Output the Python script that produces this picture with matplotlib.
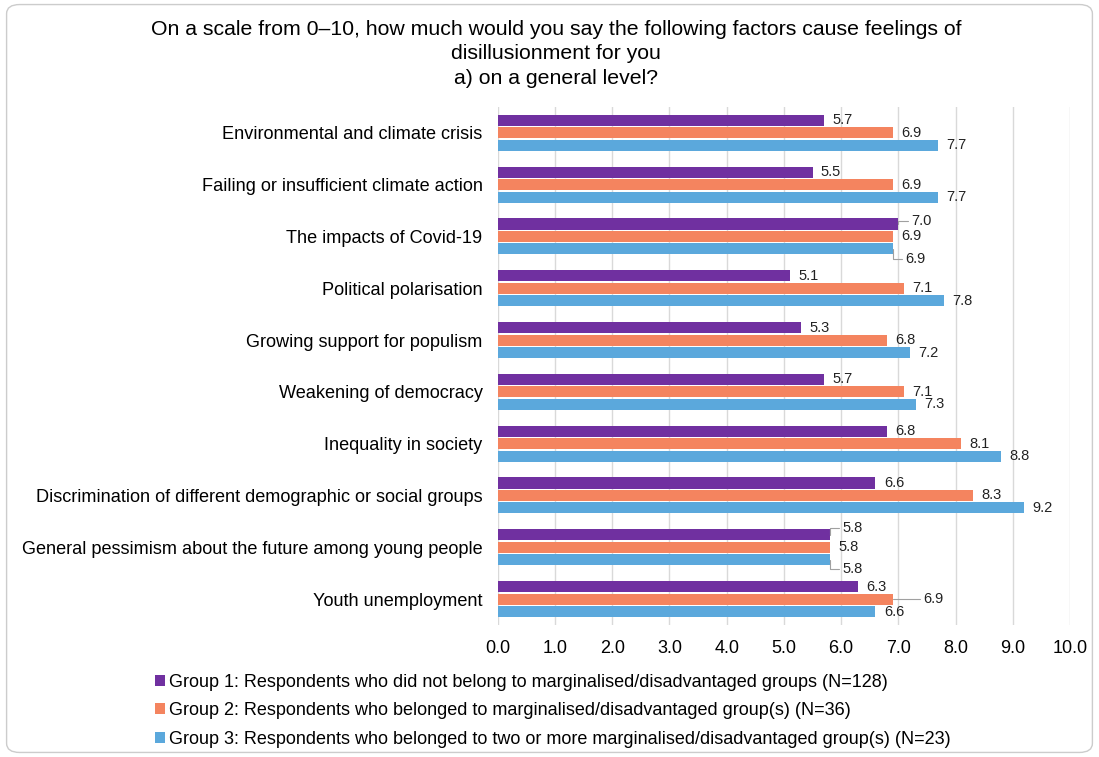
import matplotlib
matplotlib.use("Agg")
import matplotlib.pyplot as plt
from matplotlib.patches import FancyBboxPatch, Patch
import numpy as np

plt.rcParams['font.family'] = ['Liberation Sans', 'DejaVu Sans']

categories = [
    "Environmental and climate crisis",
    "Failing or insufficient climate action",
    "The impacts of Covid-19",
    "Political polarisation",
    "Growing support for populism",
    "Weakening of democracy",
    "Inequality in society",
    "Discrimination of different demographic or social groups",
    "General pessimism about the future among young people",
    "Youth unemployment",
]
group1 = [5.7, 5.5, 7.0, 5.1, 5.3, 5.7, 6.8, 6.6, 5.8, 6.3]
group2 = [6.9, 6.9, 6.9, 7.1, 6.8, 7.1, 8.1, 8.3, 5.8, 6.9]
group3 = [7.7, 7.7, 6.9, 7.8, 7.2, 7.3, 8.8, 9.2, 5.8, 6.6]
series_labels = [
    "Group 1: Respondents who did not belong to marginalised/disadvantaged groups (N=128)",
    "Group 2: Respondents who belonged to marginalised/disadvantaged group(s) (N=36)",
    "Group 3: Respondents who belonged to two or more marginalised/disadvantaged group(s) (N=23)",
]
colors = ["#7030A0", "#F4845F", "#5BA8DC"]
xticks = np.arange(0, 10.01, 1.0)
title = "On a scale from 0\u201310, how much would you say the following factors cause feelings of\ndisillusionment for you\na) on a general level?"

# label offsets (points) for labels that were moved in the original, with leader lines
label_offsets = {
    (2, 0): (9, 2), (2, 2): (9, -7),
    (8, 0): (9, 5), (8, 2): (9, -7),
    (9, 1): (22, 0),
}

fig = plt.figure(figsize=(10.99, 7.57), dpi=100)
fig.patches.append(FancyBboxPatch((0.006, 0.006), 0.988, 0.988,
                                  boxstyle="round,pad=0,rounding_size=0.012",
                                  transform=fig.transFigure, facecolor="white",
                                  edgecolor="#CCCCCC", linewidth=1.0, zorder=-10))
ax = fig.add_axes([0.453, 0.1744, 0.5206, 0.6843])
ax.set_facecolor("none")

n = len(categories)
y = np.arange(n)
h = 0.215
step = 0.24
series = [group1, group2, group3]
for si, vals in enumerate(series):
    ypos = y + (si - 1) * step
    ax.barh(ypos, vals, height=h, color=colors[si], zorder=3, label=series_labels[si])
    for ci, v in enumerate(vals):
        off = label_offsets.get((ci, si))
        if off is None:
            ax.annotate(f"{v:.1f}", (v, ypos[ci]), xytext=(6, 0), textcoords="offset points",
                        ha="left", va="center", fontsize=10.5, color="#222222")
        else:
            ax.annotate(f"{v:.1f}", (v, ypos[ci]), xytext=off, textcoords="offset points",
                        ha="left", va="center", fontsize=10.5, color="#222222",
                        arrowprops=dict(arrowstyle="-", color="#A0A0A0", lw=0.8,
                                        shrinkA=0, shrinkB=0,
                                        connectionstyle="angle,angleA=0,angleB=90,rad=0"))

ax.set_ylim(n - 0.5, -0.5)
ax.set_xlim(0, 10)
ax.set_xticks(xticks)
ax.set_xticklabels([f"{t:.1f}" for t in xticks], fontsize=13)
ax.set_yticks(y)
ax.set_yticklabels(categories, fontsize=13.1)
ax.tick_params(axis="both", length=0)
ax.tick_params(axis="y", pad=11)
ax.tick_params(axis="x", pad=11)
ax.grid(axis="x", color="#D9D9D9", linewidth=1.0, zorder=0)
for s in ax.spines.values():
    s.set_visible(False)

fig.text(0.506, 0.974, title, ha="center", va="top", fontsize=15.3, linespacing=1.37)

handles = [Patch(facecolor=c, edgecolor="none") for c in colors]
fig.legend(handles, series_labels, loc="upper left", bbox_to_anchor=(0.141, 0.11),
           frameon=False, fontsize=13, handlelength=0.55, handleheight=0.55,
           handletextpad=0.25, labelspacing=0.64, borderaxespad=0, borderpad=0)

fig.savefig("out.png", dpi=100)
